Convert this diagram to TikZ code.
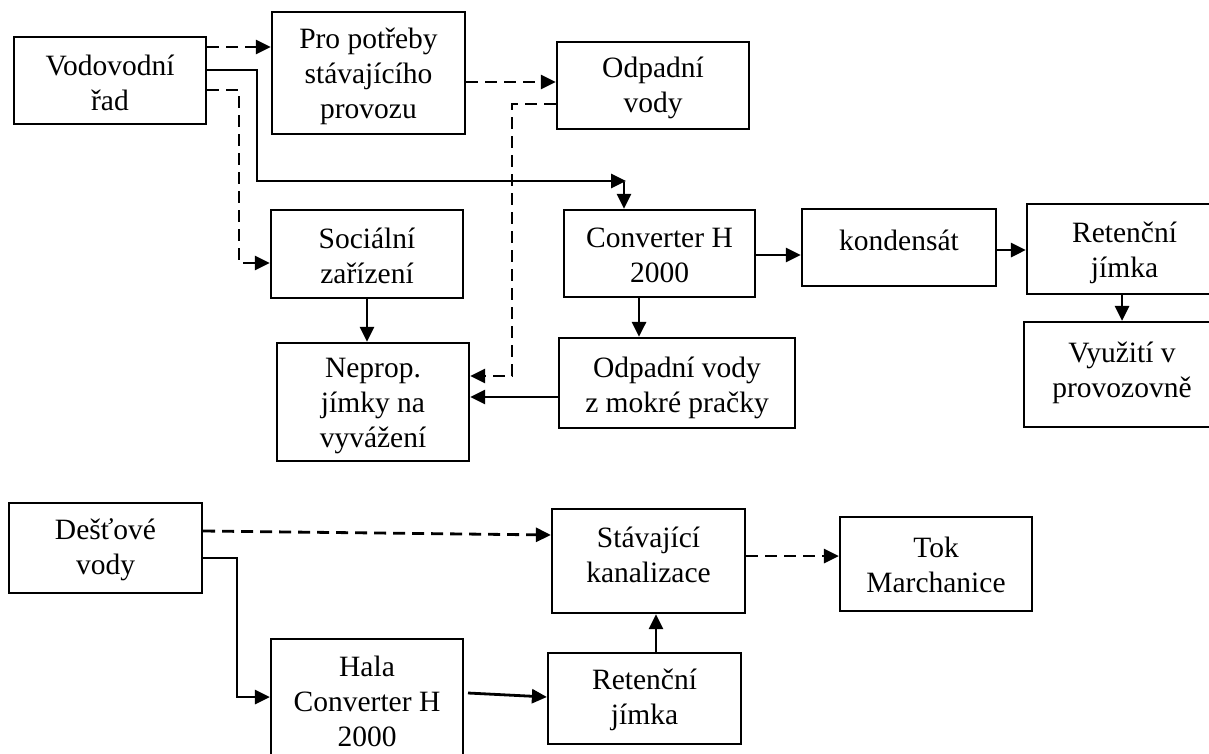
\documentclass[tikz,border=0pt]{standalone}
\usepackage{fontspec}
\setmainfont{Liberation Serif}
\usetikzlibrary{arrows.meta}
\begin{document}
\begin{tikzpicture}[x=1pt,y=-1pt,
  box/.style={draw, line width=2.2pt, rectangle, inner sep=0pt},
  lbl/.style={font=\fontsize{29.5}{35}\selectfont, align=center, inner sep=0pt},
  arr/.style={line width=2.8pt, -{Triangle[length=15pt,width=14pt]}},
  dasharr/.style={arr, dash pattern=on 12pt off 7pt}]
\useasboundingbox (0,0) rectangle (1209,753);
\fill[white] (0,0) rectangle (1209,753);
\clip (0,0) rectangle (1209,753);

% boxes
\node[box, minimum width=192pt, minimum height=87pt]  (vod)  at (110,80.5)   {};
\node[box, minimum width=193pt, minimum height=122pt] (pro)  at (368.5,73)   {};
\node[box, minimum width=192pt, minimum height=87pt]  (odp)  at (653,85.5)   {};
\node[box, minimum width=192pt, minimum height=88pt]  (soc)  at (367,254)    {};
\node[box, minimum width=192pt, minimum height=118pt] (nep)  at (373,402)    {};
\node[box, minimum width=191pt, minimum height=87pt]  (conv) at (659.5,253.5) {};
\node[box, minimum width=236pt, minimum height=90pt]  (odpm) at (677,383)    {};
\node[box, minimum width=194pt, minimum height=77pt]  (kond) at (899,247.5)  {};
\node[box, minimum width=195pt, minimum height=90pt]  (ret1) at (1124.5,249) {};
\node[box, minimum width=196pt, minimum height=105pt] (vyuz) at (1122,374.5) {};
\node[box, minimum width=193pt, minimum height=90pt]  (des)  at (105.5,548)  {};
\node[box, minimum width=193pt, minimum height=104pt] (stav) at (648.5,561)  {};
\node[box, minimum width=192pt, minimum height=94pt]  (tok)  at (936,564)    {};
\node[box, minimum width=192pt, minimum height=131pt] (hala) at (367,704.5)  {};
\node[box, minimum width=193pt, minimum height=91pt]  (ret2) at (644.5,698.5) {};

% labels
\node[lbl] (vodt)  at (110,82.5)   {Vodovodní\\řad};
\node[lbl] (prot)  at (368.5,76)   {Pro potřeby\\stávajícího\\provozu};
\node[lbl] (odpt)  at (653,87.5)   {Odpadní\\vody};
\node[lbl] (soct)  at (367,255.5)  {Sociální\\zařízení};
\node[lbl] (nept)  at (373,406)    {Neprop.\\jímky na\\vyvážení};
\node[lbl] (convt) at (659.5,255.5) {Converter H\\2000};
\node[lbl] (odpmt) at (677,387.5)  {Odpadní vody\\z mokré pračky};
\node[lbl] (kondt) at (899,240)    {kondensát};
\node[lbl] (ret1t) at (1124.5,252.5) {Retenční\\jímka};
\node[lbl] (vyuzt) at (1122,372.5) {Využití v\\provozovně};
\node[lbl] (dest)  at (105.5,550)  {Dešťové\\vody};
\node[lbl] (stavt) at (648.5,555)  {Stávající\\kanalizace};
\node[lbl] (tokt)  at (936,565)    {Tok\\Marchanice};
\node[lbl] (halat) at (367,701.5)  {Hala\\Converter H\\2000};
\node[lbl] (ret2t) at (644.5,700)  {Retenční\\jímka};

% connectors
\coordinate (j1) at (626,181);
\coordinate (j2) at (624,182);
\coordinate (h1) at (468,693);

\draw[dasharr] (vod.east |- 0,47) -- (pro.west |- 0,47);
\draw[arr] (vod.east |- 0,70) -| (257,181) -- (j1);
\draw[arr] (j2) -- (conv.north -| j2);
\draw[dasharr] (vod.east |- 0,90) -| (239,263) -- (soc.west |- 0,263);
\draw[dasharr] (pro.east |- 0,82) -- (odp.west |- 0,82);
\draw[dasharr] (odp.west |- 0,104) -| (512,376) -- (nep.east |- 0,376);
\draw[arr] (soc.south) -- (soc.south |- nep.north);
\draw[arr] (conv.east |- 0,255) -- (kond.west |- 0,255);
\draw[arr] (kond.east |- 0,250) -- (ret1.west |- 0,250);
\draw[arr] (ret1.south -| 1122,0) -- (vyuz.north -| 1122,0);
\draw[arr] (conv.south -| 639,0) -- (odpm.north -| 639,0);
\draw[arr] (odpm.west |- 0,397) -- (nep.east |- 0,397);
\draw[dasharr] (des.east |- 0,531) -- (stav.west |- 0,535);
\draw[arr] (des.east |- 0,558) -| (237,697) -- (hala.west |- 0,697);
\draw[arr] (h1) -- (ret2.west |- 0,697);
\draw[arr] (ret2.north -| 656,0) -- (stav.south -| 656,0);
\draw[dasharr] (stav.east |- 0,556) -- (tok.west |- 0,556);
\end{tikzpicture}
\end{document}
